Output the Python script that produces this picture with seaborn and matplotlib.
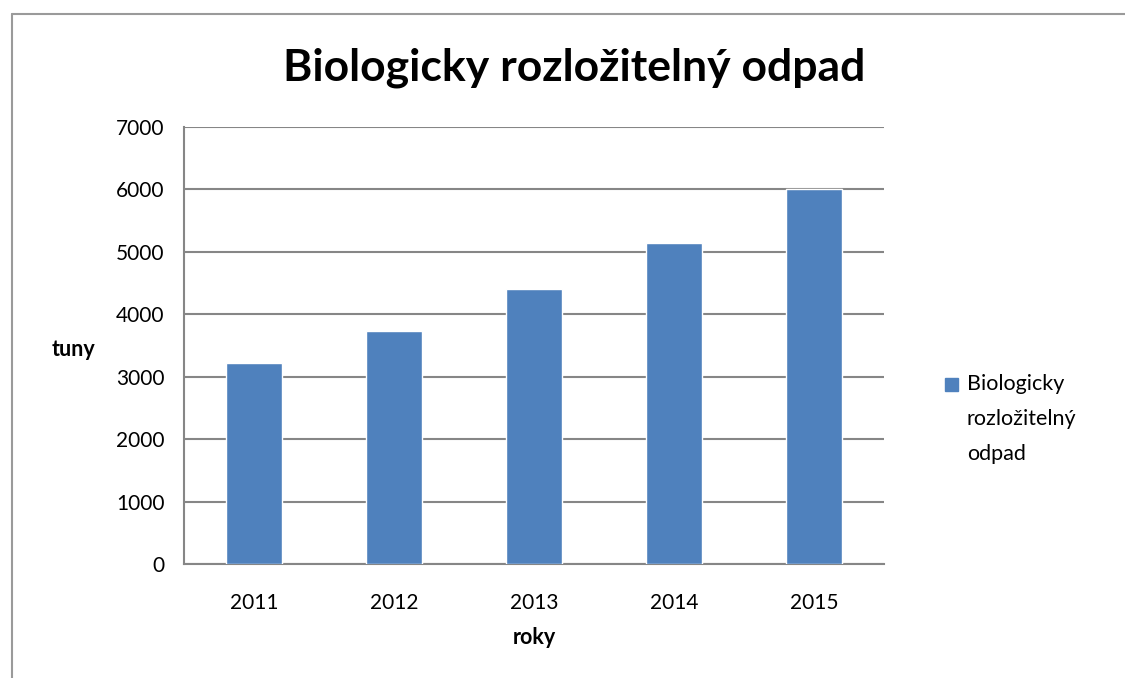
import matplotlib
matplotlib.use("Agg")
import matplotlib.pyplot as plt
from matplotlib.patches import Rectangle
from matplotlib.lines import Line2D
import seaborn as sns
import pandas as pd

# Chart data
years = ["2011", "2012", "2013", "2014", "2015"]
tons = [3220, 3730, 4400, 5140, 6010]
series_name = "Biologicky rozložitelný odpad"
y_ticks = [0, 1000, 2000, 3000, 4000, 5000, 6000, 7000]

df = pd.DataFrame({"rok": years, "tuny": tons})

sns.set_style("white", {"text.color": "black", "axes.labelcolor": "black",
                        "xtick.color": "black", "ytick.color": "black"})
plt.rcParams['font.family'] = ['Lato', 'DejaVu Sans']

bar_color = "#4F81BD"
grid_color = "#868686"

fig = plt.figure(figsize=(11.25, 6.78), dpi=100)
ax = fig.add_axes([184 / 1125, 1 - 564 / 678, 700 / 1125, 437 / 678])

sns.barplot(data=df, x="rok", y="tuny", color=bar_color, width=0.4, ax=ax,
            saturation=1, zorder=3)

ax.set_ylim(0, 7000)
ax.set_xlim(-0.5, len(years) - 0.5)
ax.set_yticks(y_ticks)
ax.set_yticklabels([str(v) for v in y_ticks], fontsize=15)
ax.yaxis.grid(True, color=grid_color, linewidth=1.5, zorder=0)
ax.set_axisbelow(True)

# category ticks sit between bars, labels centered under bars
ax.set_xticks([i - 0.5 for i in range(len(years) + 1)])
ax.set_xticklabels([])
ax.set_xticks(range(len(years)), minor=True)
ax.set_xticklabels(years, minor=True, fontsize=15)
ax.tick_params(axis="x", which="major", length=7, width=1.2, color=grid_color, direction="out")
ax.tick_params(axis="x", which="minor", length=0, pad=21, labelcolor="black")
ax.tick_params(axis="y", length=6, width=1.2, color=grid_color, direction="out", pad=8,
               labelcolor="black")

for side in ["top", "right"]:
    ax.spines[side].set_visible(False)
for side in ["left", "bottom"]:
    ax.spines[side].set_color(grid_color)
    ax.spines[side].set_linewidth(1.5)

ax.set_xlabel("")
ax.set_ylabel("")
fig.text(73 / 1125, 1 - 349 / 678, "tuny", fontsize=15.5, fontweight="bold", ha="center", va="center")
fig.text(534 / 1125, 1 - 638 / 678, "roky", fontsize=15.5, fontweight="bold", ha="center", va="center")

fig.text(574 / 1125, 1 - 68 / 678, series_name, fontsize=32, fontweight="bold",
         ha="center", va="center")

# legend, wrapped like in the original
fig.add_artist(Rectangle((945 / 1125, 1 - 391 / 678), 13 / 1125, 13 / 678,
                         transform=fig.transFigure, color=bar_color))
fig.text(967 / 1125, 1 - 374 / 678, "Biologicky\nrozložitelný\nodpad", fontsize=15.5,
         ha="left", va="top", linespacing=1.95)

# outer chart frame
fig.add_artist(Line2D([12 / 1125, 12 / 1125], [0, 1 - 14 / 678], color="#9a9a9a", linewidth=1.5))
fig.add_artist(Line2D([12 / 1125, 1], [1 - 14 / 678, 1 - 14 / 678], color="#9a9a9a", linewidth=1.5))

fig.savefig("out.png", dpi=100)
